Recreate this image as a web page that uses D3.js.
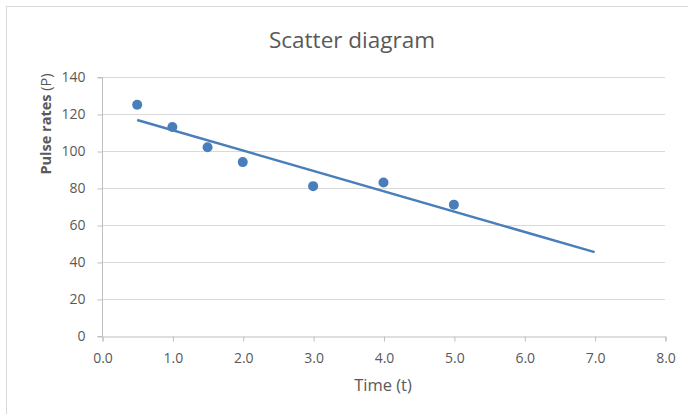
<!DOCTYPE html>
<html><head><meta charset="utf-8">
<script src="https://cdn.jsdelivr.net/npm/d3@7"></script>
<style>html,body{margin:0;padding:0;background:#fff;}svg{display:block;}</style>
</head><body>
<svg id="chart" width="688" height="414"></svg>
<script>
const timeValues = [0.5, 1.0, 1.5, 2.0, 3.0, 4.0, 5.0];
const pulseValues = [125, 113, 102, 94, 81, 83, 71];
const xTicks = [0, 1, 2, 3, 4, 5, 6, 7, 8];
const yTicks = [0, 20, 40, 60, 80, 100, 120, 140];
const trendRange = [0.5, 7.0];

const svg = d3.select('#chart');
const font = "'Open Sans', 'Noto Sans', sans-serif";
const grey = '#595959';

// chart border
svg.append('rect').attr('x', 6.5).attr('y', 6.5).attr('width', 700).attr('height', 420)
  .attr('fill', '#fff').attr('stroke', '#d9d9d9').attr('stroke-width', 1);

const x = d3.scaleLinear().domain([0, 8]).range([102, 665]);
const y = d3.scaleLinear().domain([0, 140]).range([336, 77]);

// gridlines
svg.append('g').selectAll('line').data(yTicks.filter(d => d > 0)).join('line')
  .attr('x1', x(0)).attr('x2', x(8))
  .attr('y1', d => Math.round(y(d)) + 0.5).attr('y2', d => Math.round(y(d)) + 0.5)
  .attr('stroke', '#d9d9d9').attr('stroke-width', 1);

// y axis
const yAxis = svg.append('g').attr('transform', `translate(${x(0) + 0.5},0.5)`)
  .call(d3.axisLeft(y).tickValues(yTicks).tickSize(5).tickPadding(12).tickFormat(d3.format('d')));
// x axis
const xAxis = svg.append('g').attr('transform', `translate(0.5,${y(0) + 0.5})`)
  .call(d3.axisBottom(x).tickValues(xTicks).tickSize(5).tickPadding(12).tickFormat(d3.format('.1f')));

[xAxis, yAxis].forEach(a => {
  a.select('.domain').attr('stroke', '#bfbfbf');
  a.selectAll('.tick line').attr('stroke', '#bfbfbf');
  a.selectAll('.tick text').attr('fill', grey).attr('font-family', font).attr('font-size', 14);
});
yAxis.select('.domain').attr('d', `M-5,${y(140)}H0V${y(0)}H-5`);

// trendline (least squares)
const n = timeValues.length;
const mx = d3.mean(timeValues), my = d3.mean(pulseValues);
let sxy = 0, sxx = 0;
for (let i = 0; i < n; i++) { sxy += (timeValues[i] - mx) * (pulseValues[i] - my); sxx += (timeValues[i] - mx) ** 2; }
const slope = sxy / sxx, intercept = my - slope * mx;
svg.append('path')
  .datum(trendRange.map(t => [t, intercept + slope * t]))
  .attr('d', d3.line().x(d => x(d[0])).y(d => y(d[1])))
  .attr('stroke', '#4a7ebb').attr('stroke-width', 2.5).attr('fill', 'none');

// points
svg.append('g').selectAll('circle').data(timeValues.map((t, i) => [t, pulseValues[i]])).join('circle')
  .attr('cx', d => x(d[0])).attr('cy', d => y(d[1])).attr('r', 5)
  .attr('fill', '#4a7ebb');

// titles
svg.append('text').attr('x', 352).attr('y', 48).attr('text-anchor', 'middle')
  .attr('font-family', font).attr('font-size', 22.5).attr('fill', grey).text('Scatter diagram');
svg.append('text').attr('x', 383).attr('y', 391).attr('text-anchor', 'middle')
  .attr('font-family', font).attr('font-size', 16.5).attr('fill', grey).text('Time (t)');
const yt = svg.append('text').attr('transform', 'translate(51,124) rotate(-90)').attr('text-anchor', 'middle')
  .attr('font-family', font).attr('font-size', 14.5).attr('fill', grey);
yt.append('tspan').attr('font-weight', 'bold').text('Pulse rates ');
yt.append('tspan').text('(P)');
</script>
</body></html>
